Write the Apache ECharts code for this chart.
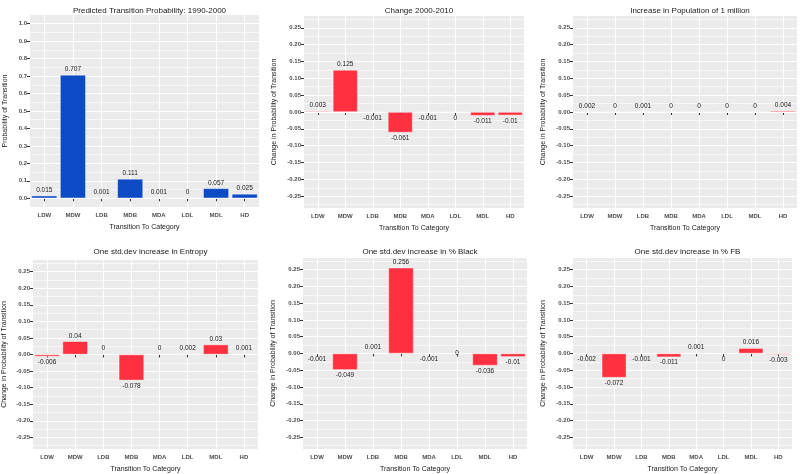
<!DOCTYPE html>
<html><head><meta charset="utf-8">
<script src="https://cdn.jsdelivr.net/npm/echarts@6/dist/echarts.min.js"></script>
<style>html,body{margin:0;padding:0;background:#fff}#c{width:800px;height:474px}</style>
</head><body><div id="c"></div>
<script>
const categories = ['LDW','MDW','LDB','MDB','MDA','LDL','MDL','HD'];
const panelTitles = ['Predicted Transition Probability: 1990-2000','Change 2000-2010','Increase in Population of 1 million','One std.dev increase in Entropy','One std.dev increase in % Black','One std.dev increase in % FB'];
const probTicks = [0,0.1,0.2,0.3,0.4,0.5,0.6,0.7,0.8,0.9,1.0];
const changeTicks = [-0.25,-0.2,-0.15,-0.1,-0.05,0,0.05,0.1,0.15,0.2,0.25];
const predicted1990 = [0.015,0.707,0.001,0.111,0.001,0.0002,0.057,0.025];
const change2000 = [0.003,0.125,-0.001,-0.061,-0.001,-0.0002,-0.011,-0.01];
const popIncrease = [0.002,0.0002,0.001,0.0002,0.0004,0.0002,0.0002,0.004];
const entropySd = [-0.006,0.04,0.0002,-0.078,0.0002,0.002,0.03,0.001];
const blackSd = [-0.001,-0.049,0.001,0.256,-0.001,0,-0.036,-0.01];
const fbSd = [-0.002,-0.072,-0.001,-0.011,0.001,-0.0002,0.016,-0.003];

const seriesData = [predicted1990, change2000, popIncrease, entropySd, blackSd, fbSd];
const boxes = [
  {l:30,r:259,t:15,b:207,ng:21},
  {l:304,r:524,t:16,b:208,ng:26},
  {l:573,r:797,t:16,b:208,ng:26},
  {l:33,r:258,t:260,b:450,ng:25},
  {l:303,r:527,t:258,b:450,ng:26},
  {l:573,r:792,t:258,b:450,ng:26}
];
const FONT = 'Liberation Sans, Arial, sans-serif';
function minorOf(ticks, lo, hi){
  const step = ticks[1]-ticks[0];
  const out = [ticks[0]-step/2];
  for (let i=0;i<ticks.length-1;i++) out.push((ticks[i]+ticks[i+1])/2);
  out.push(ticks[ticks.length-1]+step/2);
  return out.filter(v=>v>lo+1e-9 && v<hi-1e-9);
}
const grids=[], xAxes=[], yAxes=[], series=[], titles=[];
boxes.forEach((b,i)=>{
  const isProb = i===0;
  const ticks = isProb ? probTicks : changeTicks;
  const lo = isProb ? -0.05 : -0.285, hi = isProb ? 1.05 : 0.285;
  grids.push({left:b.l, top:b.t, width:b.r-b.l, height:b.b-b.t, show:false});
  titles.push({text:panelTitles[i], left:(b.l+b.r)/2, top: i<3 ? 2 : 243, textAlign:'center',
    textStyle:{fontFamily:FONT, fontSize:8, fontWeight:'normal', color:'#1a1a1a'}});
  xAxes.push({type:'category', gridIndex:i, data:categories, z:0,
    axisLine:{show:false},
    axisTick:{show:true, alignWithLabel:true, interval:0, length:3, lineStyle:{color:'#333', width:1}},
    axisLabel:{interval:0, fontFamily:FONT, fontSize:6, color:'#4d4d4d', margin:5, fontWeight:'bold'},
    splitArea:{show:true, interval:0, areaStyle:{color:['#ebebeb','#ebebeb']}},
    splitLine:{show:true, interval:0, alignWithLabel:true, lineStyle:{color:'#ffffff', width:1.1, type:'solid'}},
    name:'Transition To Category', nameLocation:'middle', nameGap:17,
    nameTextStyle:{fontFamily:FONT, fontSize:7, color:'#1a1a1a'}});
  yAxes.push({type:'value', gridIndex:i, min:lo, max:hi, z:1,
    axisLine:{show:false},
    axisTick:{show:true, length:3, customValues:ticks, lineStyle:{color:'#333', width:1}},
    axisLabel:{customValues:ticks, fontFamily:FONT, fontSize:6, color:'#4d4d4d', margin:3, fontWeight:'bold',
      formatter:v=> isProb ? v.toFixed(1) : v.toFixed(2)},
    splitLine:{show:true, lineStyle:{color:'#ffffff', width:1.1, type:'solid'}},
    name: isProb ? 'Probability of Transition' : 'Change in Probability of Transition',
    nameLocation:'middle', nameGap:b.ng,
    nameTextStyle:{fontFamily:FONT, fontSize:7, color:'#1a1a1a'}});
  yAxes.push({type:'value', gridIndex:i, min:lo, max:hi, z:1,
    axisLine:{show:false}, axisLabel:{show:false},
    axisTick:{show:false, customValues:minorOf(ticks, lo, hi)},
    splitLine:{show:true, lineStyle:{color:'#ffffff', width:0.6, type:'solid'}}});
  const color = isProb ? '#0d4bc4' : '#ff3040';
  series.push({type:'bar', xAxisIndex:i, yAxisIndex:2*i, z:2, barCategoryGap:'10%',
    data: seriesData[i].map(v=>({value:v,
      label:{position: v>0 ? 'top' : (v<0 ? 'bottom' : 'inside')}})),
    itemStyle:{color:color, borderColor:'rgba(255,255,255,0.7)', borderWidth:0.6},
    label:{show:true, distance:2, fontFamily:FONT, fontSize:6.5, color:'#1a1a1a',
      formatter:p=>String(Number(p.value.toFixed(3)))}
  });
});
const chart = echarts.init(document.getElementById('c'));
chart.setOption({animation:false, title:titles, grid:grids, xAxis:xAxes, yAxis:yAxes, series:series});
</script></body></html>
